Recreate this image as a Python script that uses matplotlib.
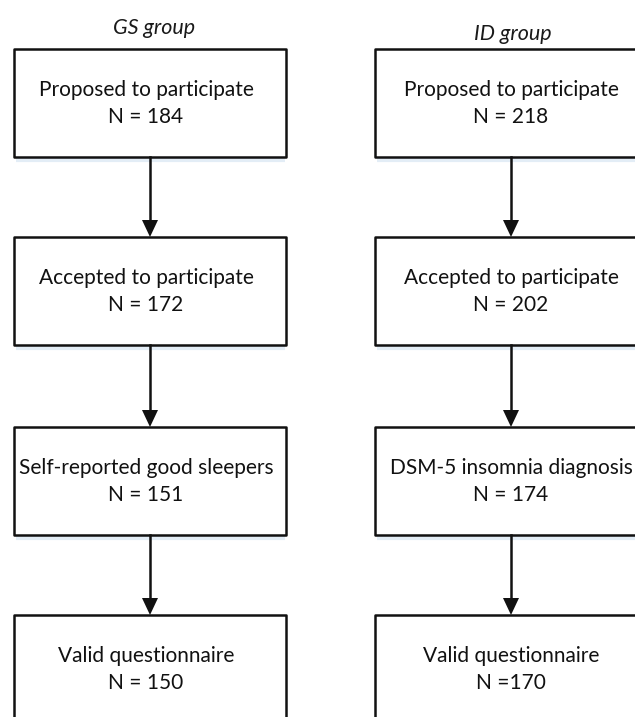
import matplotlib
matplotlib.use("Agg")
import matplotlib.pyplot as plt
from matplotlib.patches import Rectangle

groups = ["GS group", "ID group"]
stages_gs = ["Proposed to participate", "Accepted to participate",
             "Self-reported good sleepers", "Valid questionnaire"]
stages_id = ["Proposed to participate", "Accepted to participate",
             "DSM-5 insomnia diagnosis", "Valid questionnaire"]
n_gs = ["N = 184", "N = 172", "N = 151", "N = 150"]
n_id = ["N = 218", "N = 202", "N = 174", "N =170"]

W, H = 635, 717
fig = plt.figure(figsize=(W / 100, H / 100), dpi=100)
ax = fig.add_axes([0, 0, 1, 1])
ax.set_xlim(0, W)
ax.set_ylim(H, 0)
ax.axis("off")

FONT = "Lato"
centers = [150, 511]
text_dx = [-4, 0]
label_x = [154, 513]
label_y = [34, 40]
half_w = 136
tops = [49, 237, 427, 615]
box_h = 108

for gi, (cx, stages, ns) in enumerate([(centers[0], stages_gs, n_gs),
                                         (centers[1], stages_id, n_id)]):
    ax.text(label_x[gi], label_y[gi], groups[gi], ha="center",
            va="baseline", fontsize=15.5, style="italic", family=FONT, color="#1a1a1a")
    tx = cx + text_dx[gi]
    for i, (s, n) in enumerate(zip(stages, ns)):
        top = tops[i]
        ax.plot([cx - half_w + 2, cx + half_w - 1], [top + box_h + 3, top + box_h + 3],
                color="#e3edf6", lw=3, solid_capstyle="butt", zorder=1)
        ax.add_patch(Rectangle((cx - half_w, top), 2 * half_w, box_h, fill=True,
                               facecolor="white", edgecolor="#111111", lw=1.8,
                               joinstyle="round", zorder=2))
        ax.text(tx, top + 47, s, ha="center", va="baseline", fontsize=15,
                family=FONT, color="#111111", zorder=3)
        ax.text(tx, top + 74, n, ha="center", va="baseline", fontsize=15,
                family=FONT, color="#111111", zorder=3)
        if i < len(stages) - 1:
            y0 = top + box_h
            y1 = tops[i + 1]
            ax.plot([cx, cx], [y0, y1 - 14], color="#111111", lw=1.8, zorder=3)
            ax.fill([cx - 8, cx + 8, cx], [y1 - 17, y1 - 17, y1], color="#111111",
                    lw=0, zorder=3)

fig.savefig("out.png", dpi=100, facecolor="white")
